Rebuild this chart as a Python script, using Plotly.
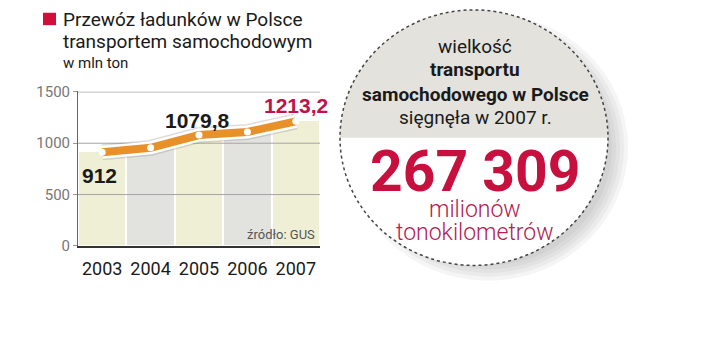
import numpy as np
import plotly.graph_objects as go

years = [2003, 2004, 2005, 2006, 2007]
values = [912, 955, 1079.8, 1110, 1213.2]
bar_colors = ["#efefd6", "#e2e2de", "#efefd6", "#e2e2de", "#efefd6"]
y_ticks = [0, 500, 1000, 1500]
grid_vals = [500, 1000, 1500]
labels = {2003: "912", 2005: "1079,8", 2007: "1213,2"}

W, H = 720, 364
def px(x):
    return x / W
def py(y):
    return 1 - y / H

y0_px, ymax_px = 249.5, 87.5
ymax = 1505

fig = go.Figure()
fig.add_trace(go.Bar(x=years, y=values, marker=dict(color=bar_colors, line=dict(width=0)),
                     width=0.96, hoverinfo="skip"))
gx, gy = [], []
for g in grid_vals:
    gx += [2002.5, 2007.5, None]
    gy += [g, g, None]
fig.add_trace(go.Scatter(x=gx, y=gy, mode="lines", line=dict(color="#a6a6a6", width=1), hoverinfo="skip"))
fig.add_trace(go.Scatter(x=years, y=values, mode="lines", line=dict(color="rgba(120,120,120,0.25)", width=16), hoverinfo="skip"))
fig.add_trace(go.Scatter(x=years, y=values, mode="lines", line=dict(color="white", width=13), hoverinfo="skip"))
fig.add_trace(go.Scatter(x=years, y=values, mode="lines+markers", line=dict(color="#e8912a", width=8),
                         marker=dict(color="white", size=7, line=dict(width=0)), hoverinfo="skip"))

# data labels
lab_pos = {2003: (99, 176, "#1a1a1a"), 2005: (197, 118, "#1a1a1a"), 2007: (296, 102, "#c0124a")}
annotations = []
for yr, txt in labels.items():
    x, y, c = lab_pos[yr]
    annotations.append(dict(x=px(x), y=py(y), xref="paper", yref="paper", text="<b>%s</b>" % txt,
                            showarrow=False, xanchor="center", yanchor="middle",
                            font=dict(family="Liberation Sans", size=21, color=c)))
annotations.append(dict(x=px(317), y=py(238), xref="paper", yref="paper", text="źródło: GUS",
                        showarrow=False, xanchor="right", yanchor="middle",
                        font=dict(family="Roboto", size=13, color="#555")))
# title
annotations += [
    dict(x=px(61), y=py(12), xref="paper", yref="paper", text="Przewóz ładunków w Polsce", showarrow=False,
         xanchor="left", yanchor="middle", font=dict(family="Roboto", size=19, color="#1a1a1a")),
    dict(x=px(61), y=py(35), xref="paper", yref="paper", text="transportem samochodowym", showarrow=False,
         xanchor="left", yanchor="middle", font=dict(family="Roboto", size=19, color="#1a1a1a")),
    dict(x=px(61), y=py(58), xref="paper", yref="paper", text="w mln ton", showarrow=False,
         xanchor="left", yanchor="middle", font=dict(family="Roboto", size=15, color="#1a1a1a")),
]
# circle texts
cx = 475
circ = [
    ("wielkość", 40, 19, "#1a1a1a", 400),
    ("transportu", 65, 19, "#1a1a1a", 700),
    ("samochodowego w Polsce", 91, 19, "#1a1a1a", 700),
    ("sięgnęła w 2007 r.", 115, 19, "#1a1a1a", 400),
    ("267 309", 171, 57, "#c8103f", 700),
    ("milionów", 211, 23, "#b3204e", 300),
    ("tonokilometrów", 235, 23, "#b3204e", 300),
]
for t, y, s, c, w in circ:
    annotations.append(dict(x=px(cx), y=py(y), xref="paper", yref="paper",
                            text=t, showarrow=False,
                            xanchor="center", yanchor="middle",
                            font=dict(family="Roboto", size=s, color=c, weight=w)))

shapes = []
# red square
shapes.append(dict(type="rect", xref="paper", yref="paper", x0=px(43), x1=px(56), y0=py(5), y1=py(18),
                   fillcolor="#d0103a", line=dict(width=0)))
# shadow
ccx, ccy, r = 474, 136, 134
for i, rr in enumerate([140, 136, 132, 128, 124]):
    shapes.append(dict(type="circle", xref="paper", yref="paper", x0=px(ccx + 14 - rr), x1=px(ccx + 14 + rr),
                       y0=py(ccy + 10 - rr), y1=py(ccy + 10 + rr), fillcolor="rgba(110,110,110,0.07)",
                       line=dict(width=0), layer="below"))
shapes.append(dict(type="circle", xref="paper", yref="paper", x0=px(ccx - r), x1=px(ccx + r),
                   y0=py(ccy - r), y1=py(ccy + r), fillcolor="white", line=dict(width=0), layer="below"))
th = np.linspace(np.pi, 2 * np.pi, 80)
pts = ["%s%.5f,%.5f" % ("M" if i == 0 else "L", px(ccx + r * np.cos(t)), py(ccy + r * np.sin(t)))
       for i, t in enumerate(th)]
shapes.append(dict(type="path", xref="paper", yref="paper", path=" ".join(pts) + " Z",
                   fillcolor="#e3e2dd", line=dict(width=0), layer="below"))
shapes.append(dict(type="circle", xref="paper", yref="paper", x0=px(ccx - r), x1=px(ccx + r),
                   y0=py(ccy - r), y1=py(ccy + r), fillcolor="rgba(0,0,0,0)",
                   line=dict(width=1.5, color="#444", dash="dot"), layer="below"))

fig.update_layout(
    width=W, height=H, margin=dict(l=0, r=0, t=0, b=0), showlegend=False,
    paper_bgcolor="white", plot_bgcolor="rgba(0,0,0,0)", bargap=0,
    annotations=annotations, shapes=shapes,
    xaxis=dict(domain=[px(78), px(320)], range=[2002.5, 2007.5], tickvals=years, ticktext=[str(y) for y in years],
               showgrid=False, zeroline=False, showline=True, linecolor="#333", linewidth=1.5,
               ticks="outside", ticklen=6, tickcolor="rgba(0,0,0,0)",
               tickfont=dict(family="Roboto", size=18, color="#1a1a1a")),
    yaxis=dict(domain=[py(y0_px), py(ymax_px)], range=[0, ymax], tickvals=y_ticks,
               showgrid=False, zeroline=False, showline=True, linecolor="#666", linewidth=1,
               ticks="outside", ticklen=4, tickcolor="#999",
               tickfont=dict(family="Roboto", size=15, color="#777")),
)
fig.write_html("out.html")
